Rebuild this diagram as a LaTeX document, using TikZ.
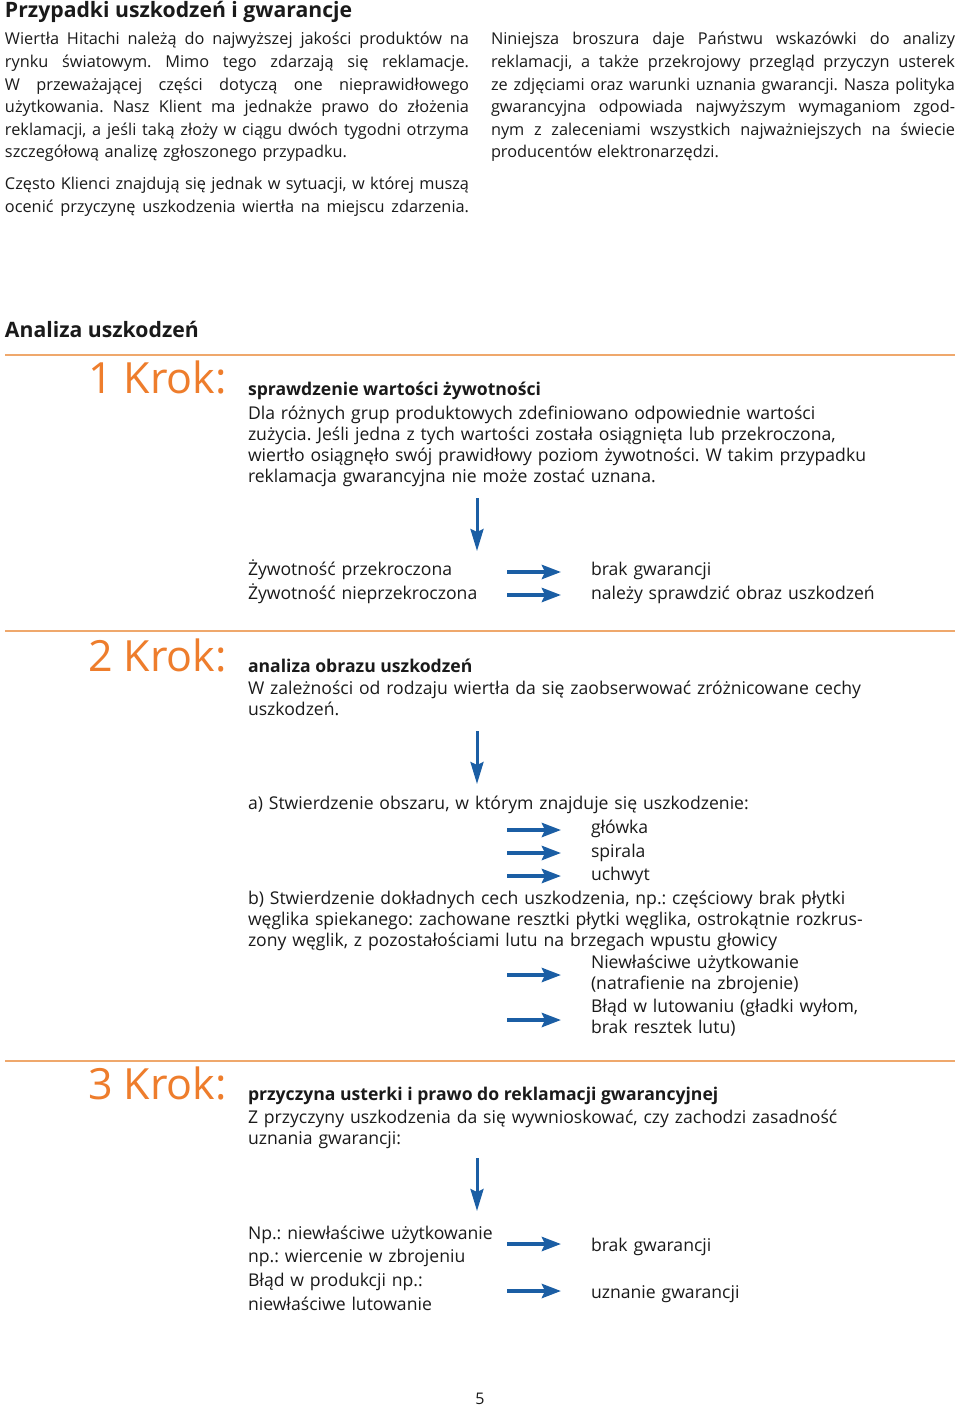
\documentclass[tikz,border=0pt]{standalone}
\usepackage{fontspec}
\setmainfont{Open Sans}
\usetikzlibrary{arrows.meta}
\definecolor{korange}{HTML}{EE7D2C}
\definecolor{krule}{HTML}{EFA86C}
\definecolor{kblue}{HTML}{1B5EA4}
\definecolor{ktext}{HTML}{1A1A1A}
\newcommand{\jline}[1]{\makebox[464pt][s]{\spaceskip=0pt\xspaceskip=0pt#1}}
\begin{document}
\begin{tikzpicture}[x=1pt,y=-1pt,
  every node/.style={inner sep=0pt,outer sep=0pt,text=ktext,execute at begin node=\frenchspacing},
  tx/.style={anchor=base west},
  toppar/.style={tx,font=\fontsize{16.3}{22.6}\selectfont,text width=464pt,align=left},
  bigtitle/.style={tx,font=\fontsize{21.2}{24}\selectfont\bfseries},
  steptxt/.style={tx,font=\fontsize{17.6}{21}\selectfont,text width=700pt,align=left},
  stepbold/.style={tx,font=\fontsize{17.6}{21}\selectfont\bfseries},
  kroklabel/.style={tx,font=\fontsize{43}{43}\selectfont,text=korange},
  sepline/.style={draw=krule,line width=1.2pt},
  harr/.style={draw=kblue,line width=4.5pt,-{Stealth[length=19pt,width=14pt,inset=3pt]}},
  varr/.style={draw=kblue,line width=3pt,-{Stealth[length=22pt,width=13pt,inset=3pt]}}
]
\useasboundingbox[fill=white] (0,0) rectangle (960,1407);

% header
\node[bigtitle] (title) at (5,17.5) {Przypadki uszkodzeń i gwarancje};
\node[toppar] (intro1) at (5,45) {%
\jline{Wiertła Hitachi należą do najwyższej jakości produktów na}\\
\jline{rynku światowym. Mimo tego zdarzają się reklamacje.}\\
\jline{W przeważającej części dotyczą one nieprawidłowego}\\
\jline{użytkowania. Nasz Klient ma jednakże prawo do złożenia}\\
\jline{reklamacji, a jeśli taką złoży w ciągu dwóch tygodni otrzyma}\\
szczegółową analizę zgłoszonego przypadku.};
\node[toppar] (intro2) at (5,189.5) {%
\jline{Często Klienci znajdują się jednak w sytuacji, w której muszą}\\
\jline{ocenić przyczynę uszkodzenia wiertła na miejscu zdarzenia.}};
\node[toppar] (intro3) at (491,45) {%
\jline{Niniejsza broszura daje Państwu wskazówki do analizy}\\
\jline{reklamacji, a także przekrojowy przegląd przyczyn usterek}\\
\jline{ze zdjęciami oraz warunki uznania gwarancji. Nasza polityka}\\
\jline{gwarancyjna odpowiada najwyższym wymaganiom zgod-}\\
\jline{nym z zaleceniami wszystkich najważniejszych na świecie}\\
producentów elektronarzędzi.};

\node[bigtitle] (analiza) at (5,337) {Analiza uszkodzeń};

% rules
\coordinate (r1a) at (5,355); \coordinate (r1b) at (955,355);
\coordinate (r2a) at (5,631); \coordinate (r2b) at (955,631);
\coordinate (r3a) at (5,1061); \coordinate (r3b) at (955,1061);
\draw[sepline] (r1a) -- (r1b);
\draw[sepline] (r2a) -- (r2b);
\draw[sepline] (r3a) -- (r3b);

% step 1
\node[kroklabel] (k1) at (88,393) {1 Krok:};
\node[stepbold] (h1) at (248,395) {sprawdzenie wartości żywotności};
\node[steptxt] (p1) at (248,419) {%
Dla różnych grup produktowych zdefiniowano odpowiednie wartości\\
zużycia. Jeśli jedna z tych wartości została osiągnięta lub przekroczona,\\
wiertło osiągnęło swój prawidłowy poziom żywotności. W takim przypadku\\
reklamacja gwarancyjna nie może zostać uznana.};
\coordinate (v1a) at (477,498); \coordinate (v1b) at (477,551);
\draw[varr] (v1a) -- (v1b);
\node[steptxt,font=\fontsize{17.6}{24}\selectfont] (z1) at (248,575) {Żywotność przekroczona\\Żywotność nieprzekroczona};
\coordinate (a1s) at (507,572); \coordinate (a1e) at (561,572);
\coordinate (a2s) at (507,595); \coordinate (a2e) at (561,595);
\draw[harr] (a1s) -- (a1e);
\draw[harr] (a2s) -- (a2e);
\node[steptxt,font=\fontsize{17.6}{24}\selectfont] (w1) at (591,575) {brak gwarancji\\należy sprawdzić obraz uszkodzeń};

% step 2
\node[kroklabel] (k2) at (88,671) {2 Krok:};
\node[stepbold] (h2) at (248,672) {analiza obrazu uszkodzeń};
\node[steptxt] (p2) at (248,694) {%
W zależności od rodzaju wiertła da się zaobserwować zróżnicowane cechy\\
uszkodzeń.};
\coordinate (v2a) at (477,731); \coordinate (v2b) at (477,784);
\draw[varr] (v2a) -- (v2b);
\node[steptxt] (pa) at (248,809) {a) Stwierdzenie obszaru, w którym znajduje się uszkodzenie:};
\coordinate (a3s) at (507,830); \coordinate (a3e) at (561,830);
\coordinate (a4s) at (507,853); \coordinate (a4e) at (561,853);
\coordinate (a5s) at (507,876); \coordinate (a5e) at (561,876);
\draw[harr] (a3s) -- (a3e);
\draw[harr] (a4s) -- (a4e);
\draw[harr] (a5s) -- (a5e);
\node[steptxt] (w3) at (591,833) {główka};
\node[steptxt] (w4) at (591,857) {spirala};
\node[steptxt] (w5) at (591,880) {uchwyt};
\node[steptxt] (pb) at (248,904) {%
b) Stwierdzenie dokładnych cech uszkodzenia, np.: częściowy brak płytki\\
węglika spiekanego: zachowane resztki płytki węglika, ostrokątnie rozkrus-\\
zony węglik, z pozostałościami lutu na brzegach wpustu głowicy};
\coordinate (a6s) at (507,975); \coordinate (a6e) at (561,975);
\coordinate (a7s) at (507,1020); \coordinate (a7e) at (561,1020);
\draw[harr] (a6s) -- (a6e);
\draw[harr] (a7s) -- (a7e);
\node[steptxt] (w6) at (591,968) {Niewłaściwe użytkowanie\\(natrafienie na zbrojenie)};
\node[steptxt] (w7) at (591,1012) {Błąd w lutowaniu (gładki wyłom,\\brak resztek lutu)};

% step 3
\node[kroklabel] (k3) at (88,1099) {3 Krok:};
\node[stepbold] (h3) at (248,1100) {przyczyna usterki i prawo do reklamacji gwarancyjnej};
\node[steptxt] (p3) at (248,1123) {%
Z przyczyny uszkodzenia da się wywnioskować, czy zachodzi zasadność\\
uznania gwarancji:};
\coordinate (v3a) at (477,1158); \coordinate (v3b) at (477,1211);
\draw[varr] (v3a) -- (v3b);
\node[steptxt,font=\fontsize{17.6}{23.7}\selectfont] (n3) at (248,1239) {%
Np.: niewłaściwe użytkowanie\\
np.: wiercenie w zbrojeniu\\
Błąd w produkcji np.:\\
niewłaściwe lutowanie};
\coordinate (a8s) at (507,1244); \coordinate (a8e) at (561,1244);
\coordinate (a9s) at (507,1291); \coordinate (a9e) at (561,1291);
\draw[harr] (a8s) -- (a8e);
\draw[harr] (a9s) -- (a9e);
\node[steptxt] (w8) at (591,1251) {brak gwarancji};
\node[steptxt] (w9) at (591,1298) {uznanie gwarancji};

\node[tx,font=\fontsize{16}{18}\selectfont,anchor=base] (page) at (480,1404) {5};
\end{tikzpicture}
\end{document}
